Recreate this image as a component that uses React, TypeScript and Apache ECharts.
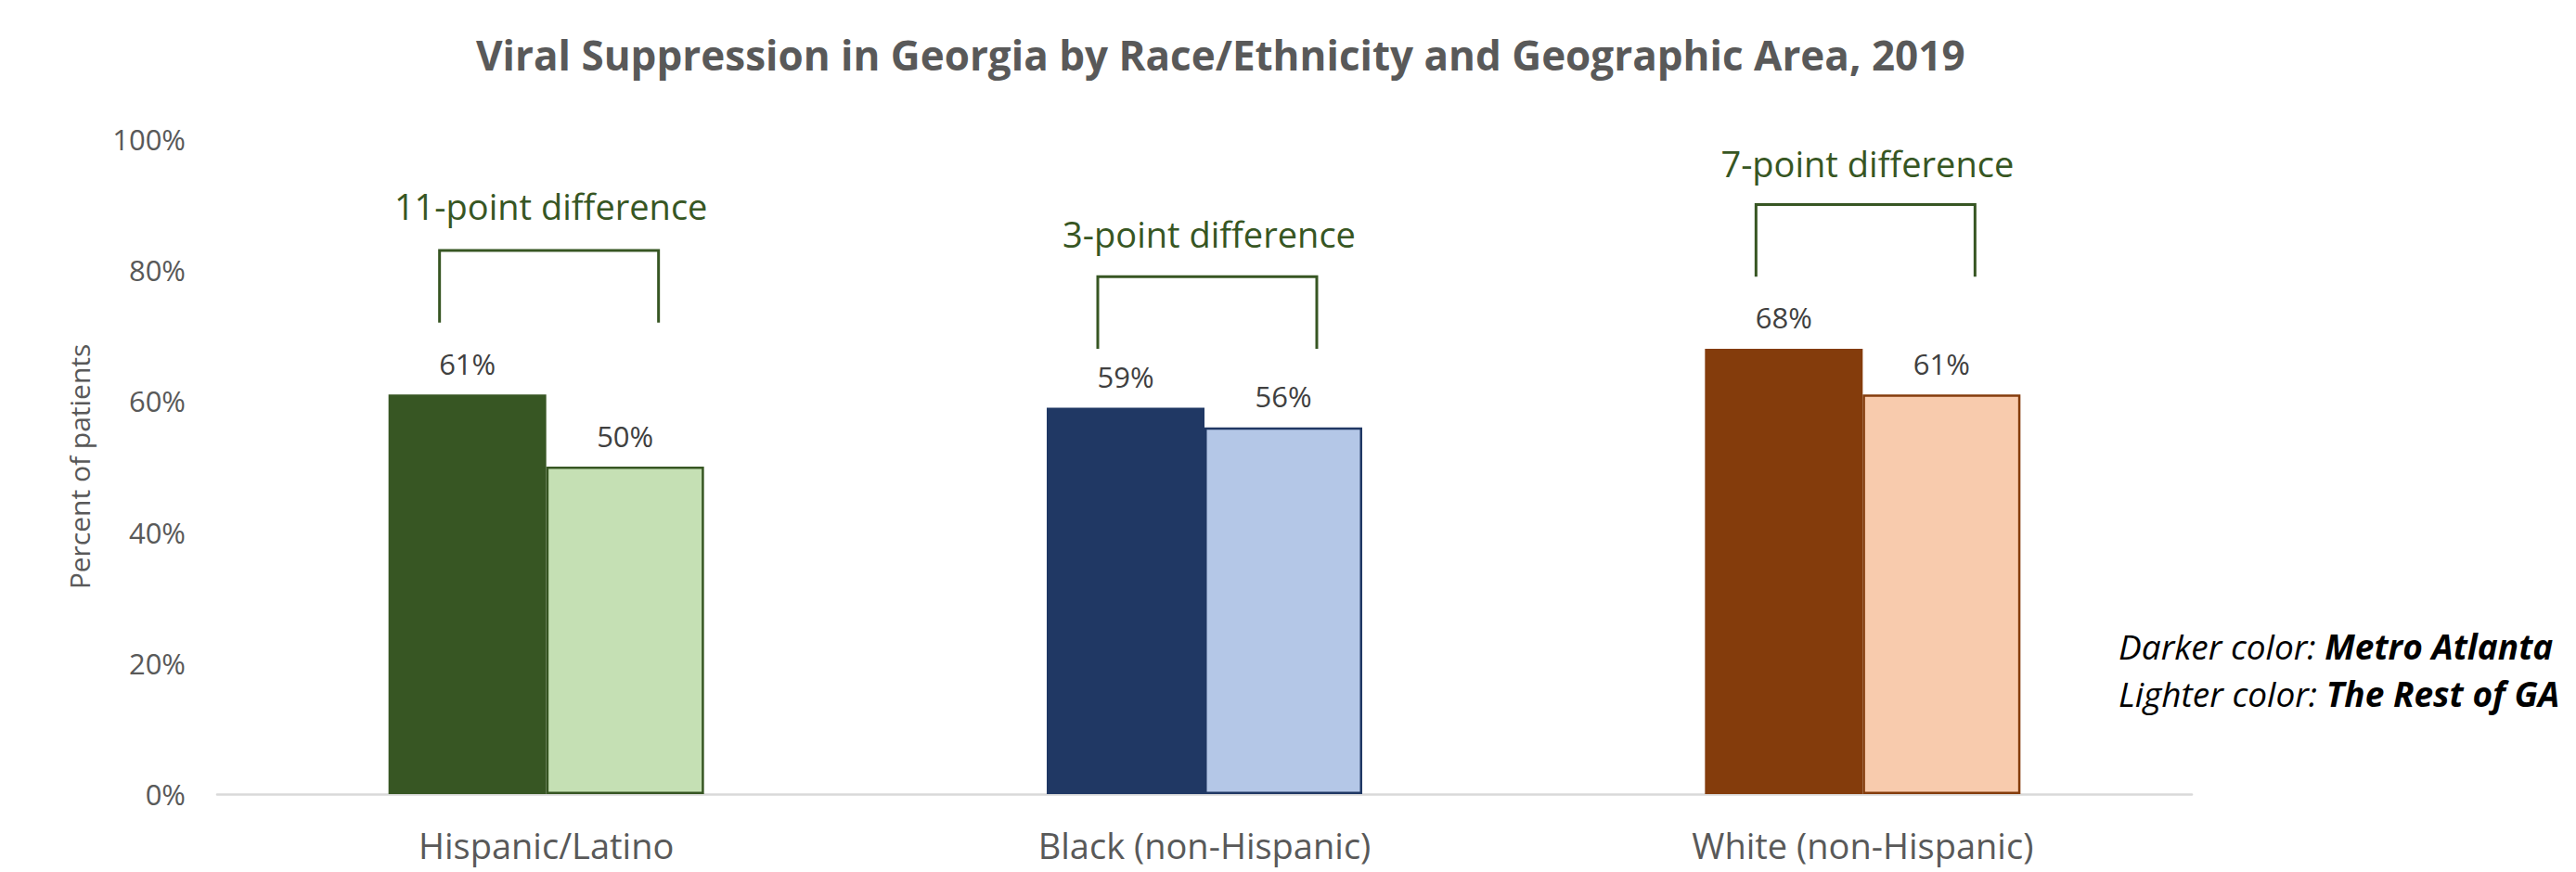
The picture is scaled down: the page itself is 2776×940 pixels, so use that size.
import React, { useEffect, useRef } from "react";
import * as echarts from "echarts";

// Viral suppression (% of patients), 2019
const categories = ["Hispanic/Latino", "Black (non-Hispanic)", "White (non-Hispanic)"];
const metroAtlanta = [61, 59, 68];
const restOfGA = [50, 56, 61];

// Darker shade = Metro Atlanta, lighter shade = rest of Georgia
const darkColors = ["#375623", "#203864", "#843C0C"];
const lightColors = ["#C5E0B4", "#B4C7E7", "#F8CBAD"];

// Gap annotations above each group (levels in axis units)
const differenceLabels = ["11-point difference", "3-point difference", "7-point difference"];
const bracketBottom = [72, 68, 79];
const bracketTop = [83, 79, 90];
const differenceTextLevel = [89.8, 85.5, 96.3];

const yTicks = [0, 20, 40, 60, 80, 100];

const FONT = "'Open Sans', 'Noto Sans', sans-serif";
const ANNOTATION_GREEN = "#375623";

export default function App() {
  const ref = useRef<HTMLDivElement>(null);

  useEffect(() => {
    document.body.style.margin = "0";
    if (!ref.current) return;
    const chart = echarts.init(ref.current, null, { renderer: "svg" });

    const option: any = {
      animation: false,
      backgroundColor: "#FFFFFF",
      textStyle: { fontFamily: FONT },
      title: {
        text: "Viral Suppression in Georgia by Race/Ethnicity and Geographic Area, 2019",
        left: 508,
        top: 32,
        textStyle: {
          fontFamily: FONT,
          fontSize: 44,
          fontWeight: "bold",
          color: "#595959",
        },
      },
      grid: { left: 234, right: 414, top: 150, bottom: 84, containLabel: false },
      xAxis: {
        type: "category",
        data: categories,
        axisLine: { show: true, lineStyle: { color: "#D9D9D9", width: 2.5 } },
        axisTick: { show: false },
        axisLabel: {
          color: "#595959",
          fontSize: 38,
          fontFamily: FONT,
          margin: 36,
        },
      },
      yAxis: {
        type: "value",
        min: yTicks[0],
        max: yTicks[yTicks.length - 1],
        interval: 20,
        name: "Percent of patients",
        nameLocation: "middle",
        nameGap: 134,
        nameTextStyle: { color: "#595959", fontSize: 30, fontFamily: FONT },
        axisLine: { show: false },
        axisTick: { show: false },
        splitLine: { show: false },
        axisLabel: {
          color: "#595959",
          fontSize: 31,
          fontFamily: FONT,
          margin: 34,
          formatter: (v: number) => `${v}%`,
        },
      },
      series: [
        {
          name: "Metro Atlanta",
          type: "bar",
          barWidth: 170,
          barGap: "0%",
          data: metroAtlanta.map((v, i) => ({
            value: v,
            itemStyle: { color: darkColors[i] },
          })),
          label: {
            show: true,
            position: "top",
            distance: 18,
            color: "#404040",
            fontSize: 31,
            fontFamily: FONT,
            formatter: (p: any) => `${p.value}%`,
          },
        },
        {
          name: "The Rest of GA",
          type: "bar",
          barWidth: 170,
          barGap: "0%",
          data: restOfGA.map((v, i) => ({
            value: v,
            itemStyle: {
              color: lightColors[i],
              borderColor: darkColors[i],
              borderWidth: 2.5,
            },
          })),
          label: {
            show: true,
            position: "top",
            distance: 18,
            color: "#404040",
            fontSize: 31,
            fontFamily: FONT,
            formatter: (p: any) => `${p.value}%`,
          },
        },
      ],
    };

    chart.setOption(option);

    // Brackets and gap captions, placed through the chart's own scales
    const halfSpan = 118;
    const graphics: any[] = [];
    categories.forEach((_, i) => {
      const [cx, yb] = chart.convertToPixel({ seriesIndex: 0 }, [i, bracketBottom[i]]) as number[];
      const [, yt] = chart.convertToPixel({ seriesIndex: 0 }, [i, bracketTop[i]]) as number[];
      const [, ty] = chart.convertToPixel({ seriesIndex: 0 }, [i, differenceTextLevel[i]]) as number[];
      graphics.push({
        type: "polyline",
        shape: {
          points: [
            [cx - halfSpan + 3, yb],
            [cx - halfSpan + 3, yt],
            [cx + halfSpan + 3, yt],
            [cx + halfSpan + 3, yb],
          ],
        },
        style: { stroke: ANNOTATION_GREEN, lineWidth: 3, fill: null },
        silent: true,
      });
      graphics.push({
        type: "text",
        x: cx + 5,
        y: ty,
        style: {
          text: differenceLabels[i],
          fill: ANNOTATION_GREEN,
          font: `38px ${FONT}`,
          textAlign: "center",
          textVerticalAlign: "middle",
        },
        silent: true,
      });
    });

    // Colour key in the right margin
    graphics.push({
      type: "text",
      x: 2283,
      y: 671,
      style: {
        text: "{i|Darker color: }{b|Metro Atlanta}\n{i|Lighter color: }{b|The Rest of GA}",
        rich: {
          i: { fontFamily: FONT, fontSize: 37, fontStyle: "italic", fill: "#000000", lineHeight: 51 },
          b: {
            fontFamily: FONT,
            fontSize: 37,
            fontStyle: "italic",
            fontWeight: "bold",
            fill: "#000000",
            lineHeight: 51,
          },
        },
        textAlign: "left",
        textVerticalAlign: "top",
      },
      silent: true,
    });

    chart.setOption({ graphic: graphics });

    return () => {
      chart.dispose();
    };
  }, []);

  return <div ref={ref} style={{ width: 2776, height: 940 }} />;
}
